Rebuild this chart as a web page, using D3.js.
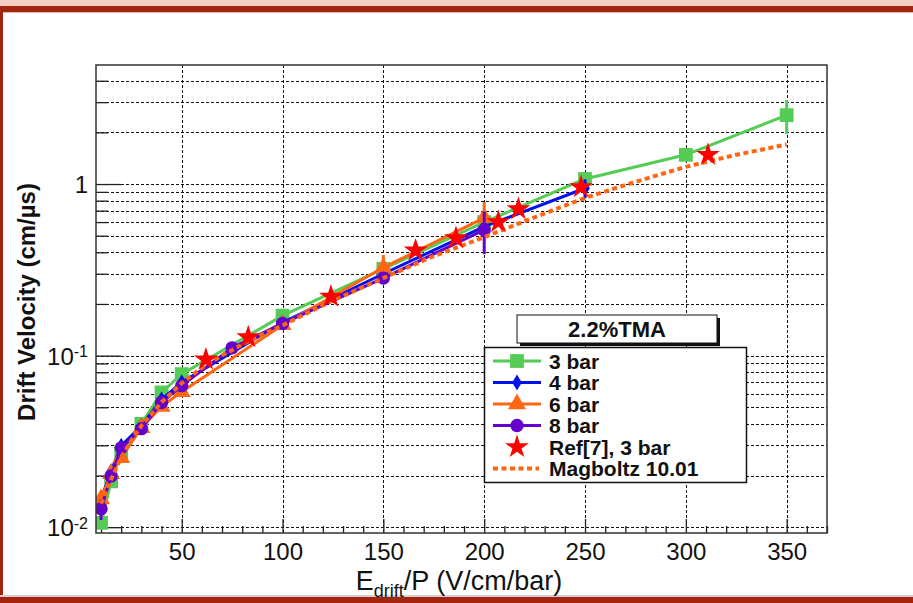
<!DOCTYPE html>
<html lang="en">
<head>
  <title>Drift velocity, 2.2% TMA</title>
  <meta charset="utf-8" />
  <script src="https://cdn.jsdelivr.net/npm/d3@7"></script>
  <style>
    body { margin: 0; background: #fff; }
    svg { display: block; font-family: "Liberation Sans", Arial, sans-serif; }
  </style>
</head>
<body>
<svg id="chart" width="913" height="603"></svg>

<script>
// E_drift/P (V/cm/bar) and drift velocity (cm/us)
var bar3E = [10, 15, 20, 30, 40, 50, 100, 150, 200, 250, 300, 350];
var bar3V = [0.0106, 0.0185, 0.0273, 0.040, 0.061, 0.078, 0.171, 0.32, 0.60, 1.07, 1.48, 2.52];
var bar3Err = [0.0008, 0.001, 0.001, 0, 0, 0, 0, 0.02, 0.03, 0.05, 0.05, 0.57];

var bar4E = [10, 15, 20, 30, 40, 50, 100, 150, 200, 250];
var bar4V = [0.0146, 0.0212, 0.0298, 0.039, 0.0555, 0.070, 0.156, 0.30, 0.565, 0.945];
var bar4Err = [0.001, 0.001, 0.001, 0, 0, 0, 0, 0.02, 0.04, 0.12];

var bar6E = [10, 15, 20, 30, 40, 50, 100, 150, 200];
var bar6V = [0.0146, 0.0205, 0.0254, 0.038, 0.0505, 0.0615, 0.151, 0.326, 0.635];
var bar6Err = [0.0015, 0.001, 0.001, 0, 0, 0, 0, 0.06, 0.15];

var bar8E = [10, 15, 20, 30, 40, 50, 75, 100, 150, 200];
var bar8V = [0.0128, 0.0199, 0.029, 0.0375, 0.0533, 0.0668, 0.111, 0.154, 0.283, 0.54];
var bar8Err = [0.0018, 0.001, 0.001, 0, 0, 0, 0, 0, 0.02, 0.15];

var refE = [62, 83, 124, 166, 186, 207, 217, 248, 311];
var refV = [0.095, 0.128, 0.221, 0.41, 0.484, 0.60, 0.715, 0.96, 1.48];

var magE = [10, 15, 20, 25, 30, 40, 50, 60, 70, 80, 90, 100, 125, 150, 175, 200, 225, 250, 275, 300, 325, 350];
var magV = [0.0137, 0.019, 0.0255, 0.032, 0.039, 0.0535, 0.069, 0.085, 0.100, 0.116, 0.133, 0.150,
            0.21, 0.283, 0.38, 0.49, 0.64, 0.83, 1.03, 1.26, 1.48, 1.70];

var xTicks = [50, 100, 150, 200, 250, 300, 350];
var yTicks = [0.01, 0.1, 1];
var yTickLabels = [["10", "-2"], ["10", "-1"], ["1", ""]];
var legendTitle = "2.2%TMA";
var legendLabels = ["3 bar", "4 bar", "6 bar", "8 bar", "Ref[7], 3 bar", "Magboltz 10.01"];
</script>

<script>
var svg = d3.select("#chart");
var fL = 96, fR = 827, fT = 65, fB = 533;

var x = d3.scaleLinear().domain([7.5, 370]).range([fL, fR]);
var y = d3.scaleLog().domain([0.00925, 4.94]).range([fB, fT]);

var green = "#55cc55", blue = "#0011ee", orange = "#ff6611", purple = "#6600cc", red = "#ff0000";

// page decoration
svg.append("rect").attr("x", 0).attr("y", 0).attr("width", 913).attr("height", 6).attr("fill", "#f3cec7");
svg.append("rect").attr("x", 0).attr("y", 6).attr("width", 913).attr("height", 6).attr("fill", "#a3240f");
svg.append("rect").attr("x", 0).attr("y", 12).attr("width", 913).attr("height", 1).attr("fill", "#e8b8ae");
svg.append("rect").attr("x", 0).attr("y", 6).attr("width", 3).attr("height", 597).attr("fill", "#a3240f");
svg.append("rect").attr("x", 0).attr("y", 595).attr("width", 913).attr("height", 2).attr("fill", "#d8d0ce");
svg.append("rect").attr("x", 0).attr("y", 597).attr("width", 913).attr("height", 6).attr("fill", "#a3240f");

// minor ticks
var xMinor = d3.range(10, 371, 10).filter(function(d) { return d % 50 != 0; });
var yMinor = [];
[0.01, 0.1, 1].forEach(function(dec) {
  for (var k = 2; k <= 9; k++) if (dec * k <= 4.94) yMinor.push(dec * k);
});

// grid
var grid = svg.append("g").attr("stroke", "#111").attr("stroke-width", 1).attr("stroke-dasharray", "3,2");
grid.selectAll("line.gy").data(yTicks.concat(yMinor)).enter().append("line")
  .attr("x1", fL).attr("x2", fR)
  .attr("y1", function(d) { return Math.round(y(d)) + 0.5; })
  .attr("y2", function(d) { return Math.round(y(d)) + 0.5; });
grid.selectAll("line.gx").data(xTicks).enter().append("line")
  .attr("y1", fT).attr("y2", fB)
  .attr("x1", function(d) { return Math.round(x(d)) + 0.5; })
  .attr("x2", function(d) { return Math.round(x(d)) + 0.5; });

// axes
var xAxis = svg.append("g").attr("transform", "translate(0," + fB + ")")
  .call(d3.axisBottom(x).tickValues(xTicks).tickSizeInner(-14).tickSizeOuter(0).tickPadding(10));
svg.append("g").attr("transform", "translate(0," + fB + ")")
  .call(d3.axisBottom(x).tickValues(xMinor).tickSizeInner(-7).tickSizeOuter(0).tickFormat(""));
var yAxis = svg.append("g").attr("transform", "translate(" + fL + ",0)")
  .call(d3.axisLeft(y).tickValues(yTicks).tickSizeInner(-25).tickSizeOuter(0).tickPadding(8));
svg.append("g").attr("transform", "translate(" + fL + ",0)")
  .call(d3.axisLeft(y).tickValues(yMinor).tickSizeInner(-12).tickSizeOuter(0).tickFormat(""));
svg.selectAll(".domain").remove();
svg.selectAll(".tick line").attr("stroke", "#222").attr("stroke-width", 1.3);

xAxis.selectAll("text").attr("font-size", 24).attr("fill", "#111").attr("font-family", null);
yAxis.selectAll("text").each(function(d, i) {
  var t = d3.select(this).text("").attr("font-size", 24).attr("fill", "#111").attr("font-family", null).attr("dy", "0.35em");
  t.append("tspan").text(yTickLabels[i][0]);
  if (yTickLabels[i][1]) t.append("tspan").attr("dy", "-0.45em").attr("font-size", 16).text(yTickLabels[i][1]);
});

// data
svg.append("defs").append("clipPath").attr("id", "frame")
  .append("rect").attr("x", fL).attr("y", fT).attr("width", fR - fL).attr("height", fB - fT);
var plot = svg.append("g").attr("clip-path", "url(#frame)");

var line = d3.line().x(function(d) { return x(d[0]); }).y(function(d) { return y(d[1]); });

function pts(es, vs, errs) {
  return es.map(function(e, i) { return [e, vs[i], errs ? errs[i] : 0]; });
}

function series(data, color, symbol, size) {
  var g = plot.append("g");
  g.append("path").datum(data).attr("d", line).attr("fill", "none")
    .attr("stroke", color).attr("stroke-width", 3);
  g.selectAll("line.err").data(data.filter(function(d) { return d[2] > 0; })).enter().append("line")
    .attr("x1", function(d) { return x(d[0]); }).attr("x2", function(d) { return x(d[0]); })
    .attr("y1", function(d) { return y(d[1] - d[2]); }).attr("y2", function(d) { return y(d[1] + d[2]); })
    .attr("stroke", color).attr("stroke-width", 3);
  g.selectAll("path.m").data(data).enter().append("path")
    .attr("d", d3.symbol().type(symbol).size(size))
    .attr("transform", function(d) { return "translate(" + x(d[0]) + "," + y(d[1]) + ")"; })
    .attr("fill", color);
}

var diamond = {
  draw: function(ctx, size) {
    var h = Math.sqrt(size) * 0.6, w = h * 0.6;
    ctx.moveTo(0, -h); ctx.lineTo(w, 0); ctx.lineTo(0, h); ctx.lineTo(-w, 0); ctx.closePath();
  }
};

series(pts(bar3E, bar3V, bar3Err), green, d3.symbolSquare, 190);
series(pts(bar4E, bar4V, bar4Err), blue, diamond, 180);
series(pts(bar6E, bar6V, bar6Err), orange, d3.symbolTriangle, 140);
series(pts(bar8E, bar8V, bar8Err), purple, d3.symbolCircle, 140);

plot.append("path").datum(pts(magE, magV)).attr("d", line).attr("fill", "none")
  .attr("stroke", orange).attr("stroke-width", 4).attr("stroke-dasharray", "5,3.5");

plot.selectAll("path.star").data(pts(refE, refV)).enter().append("path")
  .attr("d", d3.symbol().type(d3.symbolStar).size(175))
  .attr("transform", function(d) { return "translate(" + x(d[0]) + "," + y(d[1]) + ")"; })
  .attr("fill", red);

// frame
svg.append("rect").attr("x", fL).attr("y", fT).attr("width", fR - fL).attr("height", fB - fT)
  .attr("fill", "none").attr("stroke", "#333").attr("stroke-width", 1.5);

// axis titles
var xt = svg.append("text").attr("x", 459).attr("y", 590).attr("text-anchor", "middle")
  .attr("font-size", 27).attr("fill", "#111");
xt.append("tspan").text("E");
xt.append("tspan").attr("font-size", 18).attr("dy", 7).text("drift");
xt.append("tspan").attr("dy", -7).text("/P (V/cm/bar)");

svg.append("text").attr("transform", "translate(35,302) rotate(-90)").attr("text-anchor", "middle")
  .attr("font-size", 24).attr("font-weight", "bold").attr("fill", "#111")
  .text("Drift Velocity (cm/\u00b5s)");

// legend title box
svg.append("rect").attr("x", 520).attr("y", 318).attr("width", 200).attr("height", 28).attr("fill", "#111");
svg.append("rect").attr("x", 517).attr("y", 315).attr("width", 200).attr("height", 28)
  .attr("fill", "#fff").attr("stroke", "#111").attr("stroke-width", 1);
svg.append("text").attr("x", 617).attr("y", 337).attr("text-anchor", "middle")
  .attr("font-size", 22).attr("font-weight", "bold").attr("fill", "#111").text(legendTitle);

// legend box
svg.append("rect").attr("x", 484.5).attr("y", 347.5).attr("width", 262).attr("height", 135)
  .attr("fill", "#fff").attr("stroke", "#111").attr("stroke-width", 1.5);

var legendStyle = [
  { color: green, symbol: d3.symbolSquare, size: 190, line: true },
  { color: blue, symbol: diamond, size: 180, line: true },
  { color: orange, symbol: d3.symbolTriangle, size: 140, line: true },
  { color: purple, symbol: d3.symbolCircle, size: 140, line: true },
  { color: red, symbol: d3.symbolStar, size: 175, line: false },
  { color: orange, symbol: null, dashed: true }
];
var rows = svg.selectAll("g.leg").data(legendLabels).enter().append("g")
  .attr("transform", function(d, i) { return "translate(0," + (361 + i * 21.5) + ")"; });
rows.each(function(d, i) {
  var g = d3.select(this), s = legendStyle[i];
  if (s.line) g.append("line").attr("x1", 493).attr("x2", 541).attr("stroke", s.color).attr("stroke-width", 3);
  if (s.dashed) g.append("line").attr("x1", 493).attr("x2", 539).attr("stroke", s.color)
    .attr("stroke-width", 4).attr("stroke-dasharray", "5,3.5");
  if (s.symbol) g.append("path").attr("d", d3.symbol().type(s.symbol).size(s.size))
    .attr("transform", "translate(517,0)").attr("fill", s.color);
  g.append("text").attr("x", 549).attr("dy", "0.36em").attr("font-size", 21)
    .attr("font-weight", "bold").attr("fill", "#111").text(d);
});
</script>
</body>
</html>
